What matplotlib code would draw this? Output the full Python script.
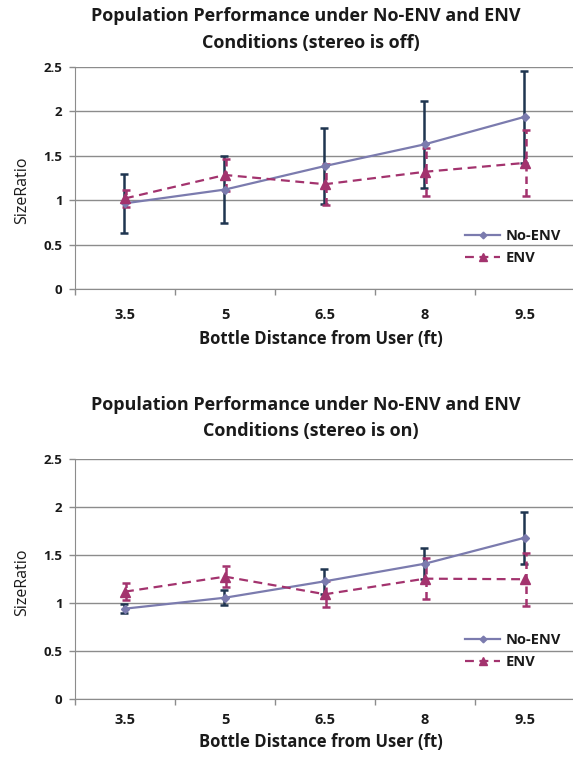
import matplotlib
matplotlib.use("Agg")
import matplotlib.pyplot as plt
import numpy as np

categories = ["3.5", "5", "6.5", "8", "9.5"]

# stereo off
off_noenv = [0.965, 1.12, 1.385, 1.63, 1.94]
off_noenv_err = [0.33, 0.375, 0.43, 0.49, 0.52]
off_env = [1.02, 1.284, 1.18, 1.32, 1.42]
off_env_err = [0.10, 0.18, 0.23, 0.27, 0.375]

# stereo on
on_noenv = [0.943, 1.057, 1.228, 1.411, 1.682]
on_noenv_err = [0.045, 0.075, 0.128, 0.163, 0.27]
on_env = [1.12, 1.276, 1.093, 1.255, 1.249]
on_env_err = [0.087, 0.108, 0.133, 0.21, 0.275]

titles = ["Population Performance under No-ENV and ENV\nConditions (stereo is off)",
          "Population Performance under No-ENV and ENV\nConditions (stereo is on)"]
xlabel = "Bottle Distance from User (ft)"
ylabel = "SizeRatio"
yticks = [0, 0.5, 1, 1.5, 2, 2.5]
ytick_labels = ["0", "0.5", "1", "1.5", "2", "2.5"]

plt.rcParams['font.family'] = ['Open Sans', 'DejaVu Sans']

W, H = 573, 761
fig = plt.figure(figsize=(W / 100, H / 100), dpi=100)

noenv_color = "#7B7BAE"
noenv_err_color = "#1F3550"
env_color = "#A3336E"
env_err_color = "#A3336E"
text_color = "#1A1A1A"

def add_axes(top, bottom, left=75, right=575):
    return fig.add_axes([left / W, 1 - bottom / H, (right - left) / W, (bottom - top) / H])

def fy(y):
    return 1 - y / H

panels = [
    dict(top=67, bottom=289, data=(off_noenv, off_noenv_err, off_env, off_env_err),
         title_y=[16, 43], xlabel_y=339, ylabel_y=190, leg_y=216, tick_pad=14),
    dict(top=459, bottom=699.3, data=(on_noenv, on_noenv_err, on_env, on_env_err),
         title_y=[405, 431], xlabel_y=742, ylabel_y=582, leg_y=620, tick_pad=10),
]

for i, p in enumerate(panels):
    ax = add_axes(p["top"], p["bottom"])
    x = np.arange(len(categories))
    ne, nee, ev, eve = p["data"]
    ax.set_ylim(0, 2.5)
    ax.set_xlim(-0.5, 4.5)
    ax.set_yticks(yticks)
    ax.set_yticklabels(ytick_labels, fontsize=9.5, fontweight='bold', color=text_color)
    ax.grid(axis='y', color='#8C8C8C', linewidth=1.0)
    ax.set_axisbelow(True)
    for s in ['top', 'right']:
        ax.spines[s].set_visible(False)
    for s in ['left', 'bottom']:
        ax.spines[s].set_color('#8C8C8C')
    ax.tick_params(axis='y', length=4, width=1, color='#8C8C8C', pad=5)
    ax.set_xticks(x)
    ax.set_xticklabels(categories, fontsize=10.5, fontweight='bold', color=text_color)
    ax.set_xticks(np.arange(-0.5, 4.0, 1.0), minor=True)
    ax.tick_params(axis='x', which='major', length=0, pad=p["tick_pad"])
    ax.tick_params(axis='x', which='minor', length=4, width=1, color='#8C8C8C')

    # No-ENV
    ax.errorbar(x - 0.012, ne, yerr=nee, fmt='none', ecolor=noenv_err_color,
                elinewidth=1.8, capsize=3, capthick=1.8, zorder=3)
    ax.plot(x, ne, color=noenv_color, linewidth=1.6, marker='D', markersize=4,
            markerfacecolor=noenv_color, markeredgecolor=noenv_color, label='No-ENV', zorder=4)
    # ENV
    eb2 = ax.errorbar(x + 0.01, ev, yerr=eve, fmt='none', ecolor=env_err_color,
                      elinewidth=1.8, capsize=3, capthick=1.8, zorder=3)
    for lc in eb2[2]:
        lc.set_linestyle((0, (3, 2)))
    ax.plot(x, ev, color=env_color, linewidth=1.6, linestyle=(0, (4, 2.5)), marker='^',
            markersize=7, markerfacecolor=env_color, markeredgecolor=env_color,
            label='ENV', zorder=5)

    leg = ax.legend(
        loc='upper left', bbox_to_anchor=(452 / W, fy(p["leg_y"])),
        bbox_transform=fig.transFigure, frameon=False,
        prop={'size': 10.5, 'weight': 'bold'}, handlelength=2.4,
        labelspacing=0.55, handletextpad=0.35, markerscale=0.85)
    for t in leg.get_texts():
        t.set_color(text_color)

    fig.text(321 / W, fy(p["xlabel_y"]), xlabel, ha='center', va='center', fontsize=12,
             fontweight='bold', color=text_color)
    fig.text(22 / W, fy(p["ylabel_y"]), ylabel, ha='center', va='center', fontsize=11.5,
             rotation=90, color=text_color)

    tl = titles[i].split("\n")
    for line, yy, xx in zip(tl, p["title_y"], [306, 311]):
        fig.text(xx / W, fy(yy), line, ha='center', va='center', fontsize=13,
                 fontweight='bold', color=text_color)

fig.savefig("out.png", dpi=100, facecolor='white')
